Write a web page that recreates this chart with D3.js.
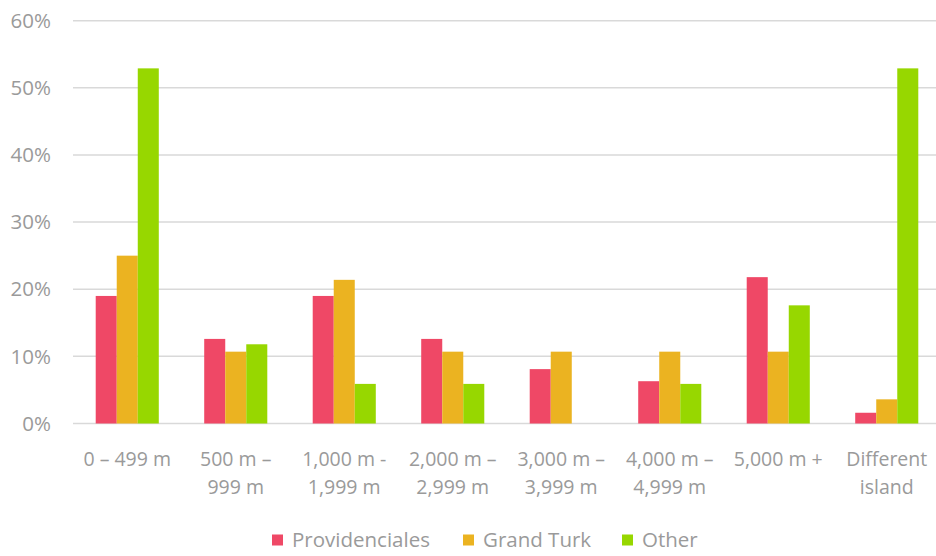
<!DOCTYPE html>
<html>
<head>
<meta charset="utf-8">
<script src="https://cdn.jsdelivr.net/npm/d3@7"></script>
<style>
  body { margin: 0; background: #fff; }
  text { font-family: "Open Sans", sans-serif; fill: #9a9a9a; }
</style>
</head>
<body>
<div class="canvas"></div>
<script>
const categories = [
  ['0 – 499 m'],
  ['500 m –', '999 m'],
  ['1,000 m -', '1,999 m'],
  ['2,000 m –', '2,999 m'],
  ['3,000 m –', '3,999 m'],
  ['4,000 m –', '4,999 m'],
  ['5,000 m +'],
  ['Different', 'island']
];
const seriesNames = ['Providenciales', 'Grand Turk', 'Other'];
const providenciales = [19.0, 12.6, 19.0, 12.6, 8.1, 6.3, 21.8, 1.6];
const grandTurk = [25.0, 10.7, 21.4, 10.7, 10.7, 10.7, 10.7, 3.6];
const other = [52.9, 11.8, 5.9, 5.9, 0, 5.9, 17.6, 52.9];
const yTicks = [0, 10, 20, 30, 40, 50, 60];
const colors = ['#ef4866', '#ebb321', '#97d700'];

const series = [providenciales, grandTurk, other];

const svg = d3.select('.canvas')
  .append('svg')
  .attr('width', 936)
  .attr('height', 556);

const x = d3.scaleBand()
  .domain(d3.range(categories.length))
  .range([73, 941])
  .paddingInner(0)
  .paddingOuter(0);

const inner = d3.scaleBand()
  .domain(d3.range(series.length))
  .range([0, x.bandwidth()])
  .paddingInner(0)
  .paddingOuter(1.08);

const y = d3.scaleLinear()
  .domain([0, 60])
  .range([423.5, 20.7]);

// gridlines
svg.append('g')
  .selectAll('line')
  .data(yTicks)
  .join('line')
  .attr('x1', 73)
  .attr('x2', 936)
  .attr('y1', d => y(d))
  .attr('y2', d => y(d))
  .attr('stroke', '#d9d9d9')
  .attr('stroke-width', 1.5);

// y labels
svg.append('g')
  .selectAll('text')
  .data(yTicks)
  .join('text')
  .attr('x', 51)
  .attr('y', d => y(d))
  .attr('dy', '0.35em')
  .attr('text-anchor', 'end')
  .style('font-size', '20.5px')
  .text(d => d + '%');

// bars
series.forEach((vals, s) => {
  svg.append('g')
    .selectAll('rect')
    .data(vals)
    .join('rect')
    .attr('x', (d, i) => x(i) + inner(s))
    .attr('y', d => y(d))
    .attr('width', inner.bandwidth())
    .attr('height', d => y(0) - y(d))
    .attr('fill', colors[s]);
});

// category labels
const cat = svg.append('g')
  .selectAll('text')
  .data(categories)
  .join('text')
  .attr('x', (d, i) => x(i) + x.bandwidth() / 2)
  .attr('y', 466)
  .attr('text-anchor', 'middle')
  .style('font-size', '19.5px');

cat.selectAll('tspan')
  .data(d => d)
  .join('tspan')
  .attr('x', function () { return d3.select(this.parentNode).attr('x'); })
  .attr('dy', (d, i) => i === 0 ? 0 : 28)
  .text(d => d);

// legend
const legendX = [272, 463, 622];
const legend = svg.append('g')
  .selectAll('g')
  .data(seriesNames)
  .join('g')
  .attr('transform', (d, i) => `translate(${legendX[i]}, 540)`);

legend.append('rect')
  .attr('x', 0)
  .attr('y', -5.5)
  .attr('width', 11)
  .attr('height', 11)
  .attr('fill', (d, i) => colors[i]);

legend.append('text')
  .attr('x', 20)
  .attr('dy', '0.35em')
  .style('font-size', '20.5px')
  .text(d => d);
</script>
</body>
</html>
